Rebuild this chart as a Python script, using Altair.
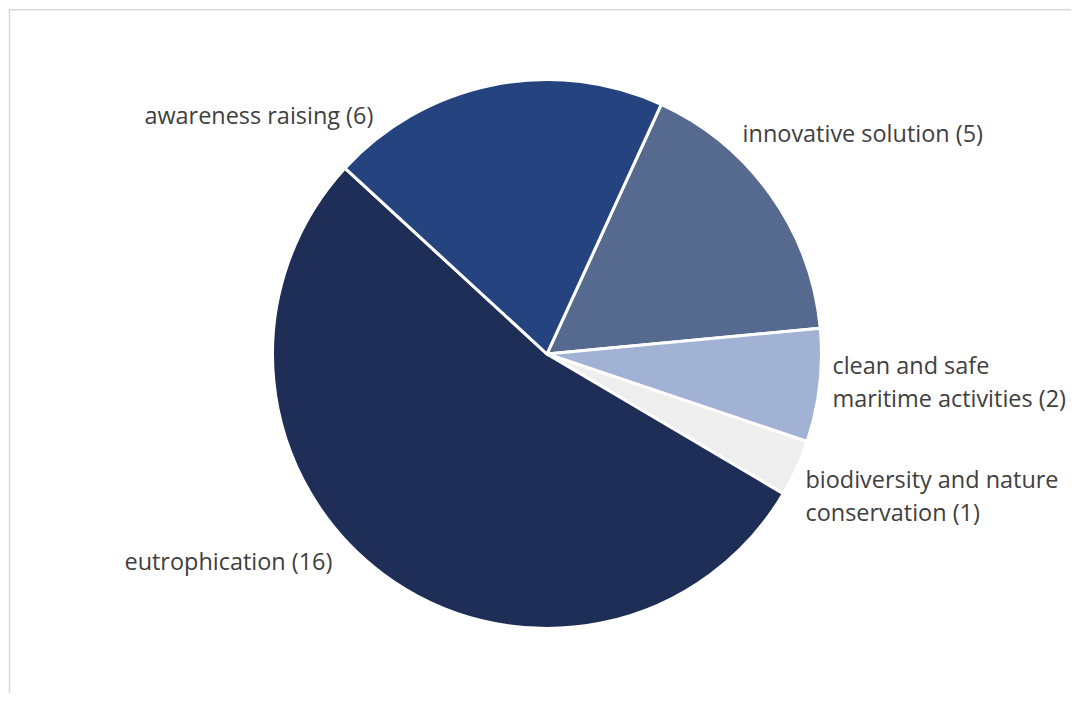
import math
import altair as alt
import pandas as pd

# Data
categories = [
    "innovative solution",
    "clean and safe maritime activities",
    "biodiversity and nature conservation",
    "eutrophication",
    "awareness raising",
]
counts = [5, 2, 1, 16, 6]
colors = ["#56698F", "#A1B2D4", "#EEEEEE", "#1E2E56", "#25447F"]
label_lines = [
    ["innovative  solution"],
    ["clean and safe", "maritime activities"],
    ["biodiversity  and nature", "conservation"],
    ["eutrophication "],
    ["awareness raising"],
]

df = pd.DataFrame({
    "category": categories,
    "count": counts,
    "idx": list(range(len(categories))),
    "label": ["\n".join(lines) + f" ({c})" for lines, c in zip(label_lines, counts)],
})

W, H = 1064, 686
CX, CY, R = 539, 346, 275
start = math.radians(24.6)

base = alt.Chart(df)

pie = base.mark_arc(radius=R, stroke="white", strokeWidth=3).encode(
    theta=alt.Theta("count:Q", stack=True,
                    scale=alt.Scale(range=[start, start + 2 * math.pi])),
    order=alt.Order("idx:Q"),
    color=alt.Color("category:N", scale=alt.Scale(domain=categories, range=colors), legend=None),
    x=alt.value(CX),
    y=alt.value(CY),
)

# label placement (Excel best-fit layout), in view pixels: first line position
label_layout = {
    "awareness raising": (365, 109, "right"),
    "innovative solution": (735, 127, "left"),
    "clean and safe maritime activities": (825, 359, "left"),
    "biodiversity and nature conservation": (798, 473, "left"),
    "eutrophication": (324, 555, "right"),
}

layers = [pie]
for cat, (lx, ly, al) in label_layout.items():
    layers.append(
        base.transform_filter(alt.datum.category == cat).mark_text(
            font="Open Sans", fontSize=23.5, color="#404040", align=al, baseline="middle",
            lineBreak="\n", lineHeight=33.5,
        ).encode(text="label:N", x=alt.value(lx), y=alt.value(ly))
    )

frame_top = base.transform_filter(alt.datum.idx == 0).mark_rule(color="#D9D9D9", strokeWidth=1.5).encode(
    x=alt.value(0), x2=alt.value(W), y=alt.value(1))
frame_left = base.transform_filter(alt.datum.idx == 0).mark_rule(color="#D9D9D9", strokeWidth=1.5).encode(
    x=alt.value(0.5), y=alt.value(1), y2=alt.value(H))
layers += [frame_top, frame_left]

chart = alt.layer(*layers).properties(
    width=W, height=H, padding=0, background="white"
).configure_view(stroke=None)

chart.save("out.html", embed_options={"renderer": "svg", "actions": False})
